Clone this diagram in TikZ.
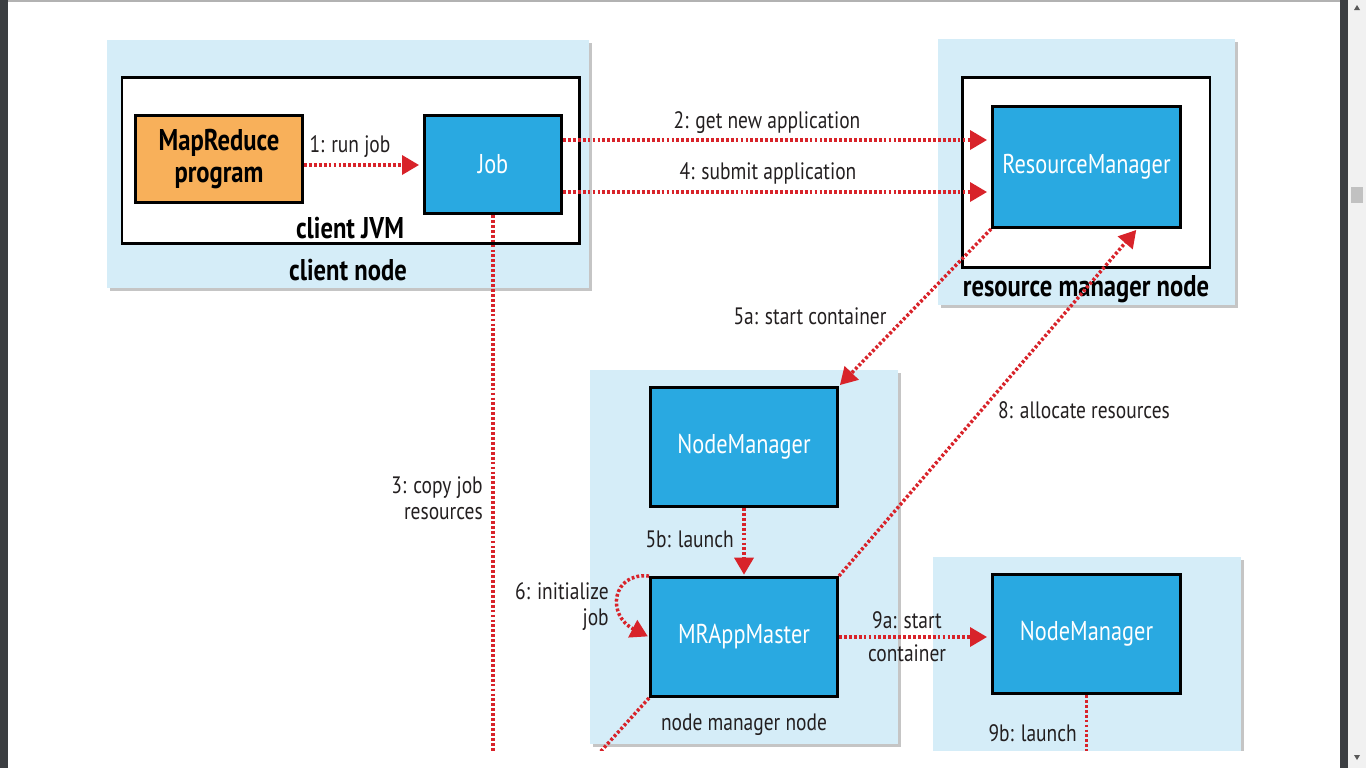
\documentclass[tikz,border=0pt]{standalone}
\usepackage{fontspec}
\setmainfont{PT Sans}[FakeStretch=0.82]
\usetikzlibrary{arrows.meta,calc,shadows}
\definecolor{hostblue}{HTML}{D5EDF8}
\definecolor{svcblue}{HTML}{29A9E1}
\definecolor{progorange}{HTML}{F8B05A}
\definecolor{flowred}{HTML}{D8232A}
\definecolor{inkgray}{HTML}{231F20}
\definecolor{chromedark}{HTML}{3B3E41}
\definecolor{chrometrack}{HTML}{F1F1F1}
\definecolor{chromethumb}{HTML}{C1C1C1}
\tikzset{
  lbl/.style={font=\fontsize{17.8}{19.5}\selectfont, inner sep=0pt, text=inkgray},
  boldlbl/.style={font=\fontsize{22.5}{24}\selectfont\bfseries, inner sep=0pt, text=black},
  hostbox/.style={fill=hostblue, draw=none, inner sep=0pt,
    drop shadow={shadow xshift=2.5pt, shadow yshift=-2.5pt, fill=black!50, opacity=0.45}},
  jvmbox/.style={fill=white, draw=black, line width=2.2pt, inner sep=0pt},
  svcbox/.style={fill=svcblue, draw=black, line width=2.2pt, inner sep=0pt, text=white,
    font=\fontsize{20.4}{22}\selectfont},
  progbox/.style={fill=progorange, draw=black, line width=2.2pt, inner sep=0pt, text=black,
    font=\fontsize{22.5}{24}\selectfont\bfseries, align=center},
  flow/.style={draw=flowred, line width=2.6pt, dash pattern=on 2.1pt off 1.6pt,
    -{Triangle[length=12.75pt,width=14.25pt,fill=flowred]}, shorten >=3pt},
  plainflow/.style={draw=flowred, line width=2.6pt, dash pattern=on 2.1pt off 1.6pt},
}
\begin{document}
\begin{tikzpicture}[x=0.75pt,y=-0.75pt]
\useasboundingbox (0,0) rectangle (1366,768);
\fill[white] (0,0) rectangle (1366,768);
\begin{scope}
\clip (8,2) rectangle (1340,750);
% host boxes
\node[hostbox, minimum width=361.5pt, minimum height=186pt] (clientnode) at (348,164) {};
\node[hostbox, minimum width=222.75pt, minimum height=199.5pt] (rmnode) at (1086.5,172) {};
\node[hostbox, minimum width=231pt, minimum height=280.5pt] (nmnode) at (744,557) {};
\node[hostbox, minimum width=231pt, minimum height=197.25pt] (nmtwonode) at (1087,688.5) {};
% JVM boxes
\node[jvmbox, minimum width=343.1pt, minimum height=124.5pt] (clientjvm) at (350.75,160.5) {};
\node[jvmbox, minimum width=185.6pt, minimum height=142.5pt] (rmjvm) at (1086.25,172.5) {};
% services
\node[progbox, minimum width=125.25pt, minimum height=65.25pt] (mrprog) at (219,159) {MapReduce\\program};
\node[svcbox, minimum width=102.75pt, minimum height=73.5pt] (job) at (493,164.5) {Job};
\node[svcbox, minimum width=141pt, minimum height=90.75pt] (rm) at (1086.5,167) {ResourceManager};
\node[svcbox, minimum width=140.25pt, minimum height=89.25pt] (nmone) at (744,447) {NodeManager};
\node[svcbox, minimum width=140.25pt, minimum height=89.25pt] (mram) at (744,637) {MRAppMaster};
\node[svcbox, minimum width=141pt, minimum height=89.25pt] (nmtwo) at (1086.5,634) {NodeManager};
% host labels
\node[boldlbl] (ljvm) at (350,228) {client JVM};
\node[boldlbl] (lclient) at (348,270) {client node};
\node[boldlbl] (lrmnode) at (1086,289) {resource manager node};
\node[lbl] (lnmnode) at (744,725) {node manager node};
% connectors
\draw[flow] (mrprog.east |- 0,165) -- (job.west |- 0,165);
\coordinate (jtwo) at (job.east |- 0,140);
\coordinate (jfour) at (job.east |- 0,192);
\draw[flow] (jtwo) -- (jtwo -| rm.west);
\draw[flow] (jfour) -- (jfour -| rm.west);
\coordinate (jdown) at (493,800);
\draw[plainflow] (job.south) -- (jdown);
\draw[flow, shorten >=1pt] (rm.south west) -- (nmone.north east);
\draw[flow, shorten >=1pt] (nmone.south) -- (mram.north);
\draw[flow, shorten >=1pt] (mram.north east) -- ($(rm.south west)!0.765!(rm.south east)$);
\draw[flow, shorten >=1pt] (mram.north west) .. controls +(-37,-4) and +(-43,-22) .. (mram.west);
\draw[flow] (mram.east) -- (mram.east -| nmtwo.west);
\coordinate (mrdown) at (555,802);
\draw[plainflow] (mram.south west) -- (mrdown);
\coordinate (nmdown) at (nmtwo.south |- 0,800);
\draw[plainflow] (nmtwo.south) -- (nmdown);
% connector labels
\node[lbl] (lone) at (350,147) {1: run job};
\node[lbl] (ltwo) at (767,123) {2: get new application};
\node[lbl] (lfour) at (768,173) {4: submit application};
\node[lbl, align=right, anchor=east] (lthree) at (483,498) {3: copy job\\resources};
\node[lbl] (lfivea) at (810,316) {5a: start container};
\node[lbl] (leight) at (1084,410) {8: allocate resources};
\node[lbl, anchor=east] (lfiveb) at (734,539) {5b: launch};
\node[lbl, align=right, anchor=east] (lsix) at (609,606.5) {6: initialize\\job};
\node[lbl, align=center, font=\fontsize{17.8}{24.5}\selectfont] (lninea) at (907,636.5) {9a: start\\container};
\node[lbl, anchor=east] (lnineb) at (1077,733) {9b: launch};
\end{scope}
% browser chrome
\fill[chromedark] (0,0) rectangle (8,768);
\fill[black!30] (8,0) rectangle (1340,2);
\fill[chromedark] (1340,0) rectangle (1348,768);
\fill[chrometrack] (1348,0) rectangle (1366,768);
\fill[chromethumb] (1351,187) rectangle (1363,203);
\fill[black!65] (1354,10) -- (1360,10) -- (1357,5) -- cycle;
\fill[black!65] (1354,755) -- (1360,755) -- (1357,760) -- cycle;
\end{tikzpicture}
\end{document}
